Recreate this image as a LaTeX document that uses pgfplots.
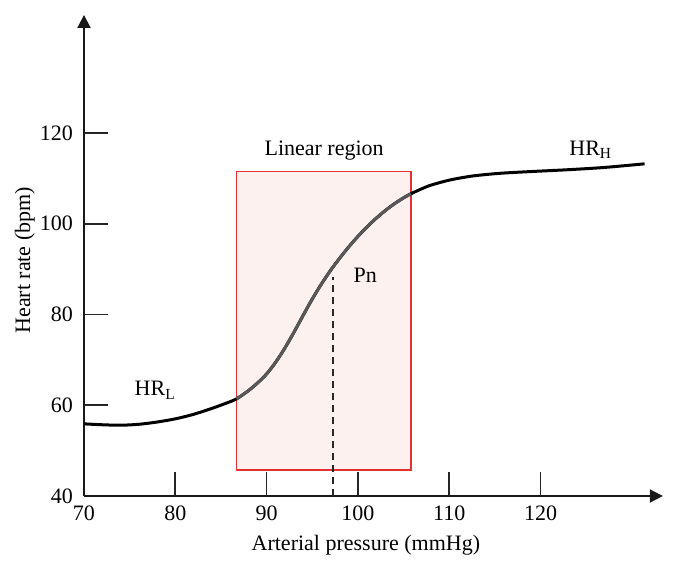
\documentclass[border=0pt]{standalone}
\usepackage{fontspec}
\setmainfont{Liberation Serif}
\usepackage{pgfplots}
\pgfplotsset{compat=1.18}
\usetikzlibrary{arrows.meta}

\definecolor{boxred}{RGB}{228,48,48}
\definecolor{boxfill}{RGB}{253,241,240}
\definecolor{midgray}{RGB}{88,88,88}

\begin{document}
\begin{tikzpicture}
\begin{axis}[
  x=4.565pt, y=2.269pt,
  xmin=70, xmax=133.4,
  ymin=40, ymax=146,
  axis lines=left,
  axis line style={line width=1pt, color=black!90, -{Triangle[length=6.5pt,width=6.5pt]}},
  xtick={70,80,...,120},
  ytick={40,60,...,120},
  tick align=inside,
  major tick length=12pt,
  tick style={line width=0.8pt, color=black!85},
  font=\fontsize{11pt}{13pt}\selectfont,
  /pgf/number format/assume math mode=true,
  yticklabel style={xshift=-2pt},
  xticklabel style={yshift=-1.5pt},
  xlabel={Arterial pressure (mmHg)},
  ylabel={Heart rate (bpm)},
  every axis x label/.style={at={(axis description cs:0.487,-0.102)}, anchor=center},
  every axis y label/.style={at={(axis description cs:-0.102,0.49)}, anchor=center, rotate=90},
  clip=false,
]

% linear region box
\addplot[draw=boxred, line width=0.75pt, fill=boxfill] coordinates {
  (86.7,45.7) (105.8,45.7) (105.8,111.5) (86.7,111.5)
} -- cycle;

% operating point
\addplot[black!85, line width=0.8pt, dash pattern=on 3.5pt off 2.5pt] coordinates {
  (97.3,40) (97.3,88.3)
};

% baroreflex curve
\addplot[black, line width=1.5pt, smooth] coordinates {
  (70,55.9) (72,55.7) (74,55.6) (76,55.8) (78,56.3) (80,57.0) (82,58.0)
  (84,59.3) (85.5,60.4) (86.7,61.4) (88,63.2) (89,64.9) (90,66.9)
  (91,69.5) (92,72.6) (93,76.1) (94,79.8) (95,83.4) (96,86.7) (97,89.7)
  (98,92.4) (99,94.9) (100,97.2) (101,99.3) (102,101.2) (103,102.9)
  (104,104.4) (105,105.7) (105.8,106.6) (107,107.7) (108,108.5)
  (110,109.6) (112.5,110.5) (115.5,111.1) (119,111.5) (123,111.9)
  (127,112.4) (131.4,113.2)
};
% part inside the box, lighter
\addplot[midgray, line width=1.5pt, smooth] coordinates {
  (86.7,61.4) (88,63.2) (89,64.9) (90,66.9)
  (91,69.5) (92,72.6) (93,76.1) (94,79.8) (95,83.4) (96,86.7) (97,89.7)
  (98,92.4) (99,94.9) (100,97.2) (101,99.3) (102,101.2) (103,102.9)
  (104,104.4) (105,105.7) (105.8,106.6)
};

\node at (axis cs:96.3,116.2) {Linear region};
\node at (axis cs:100.8,88.6) {Pn};
\node at (axis cs:77.8,63.3) {HR\textsubscript{L}};
\node at (axis cs:125.5,116.3) {HR\textsubscript{H}};

% page size of the reference
\path (axis cs:60.8,24.35) rectangle (axis cs:134.95,149.3);
\end{axis}
\end{tikzpicture}
\end{document}
